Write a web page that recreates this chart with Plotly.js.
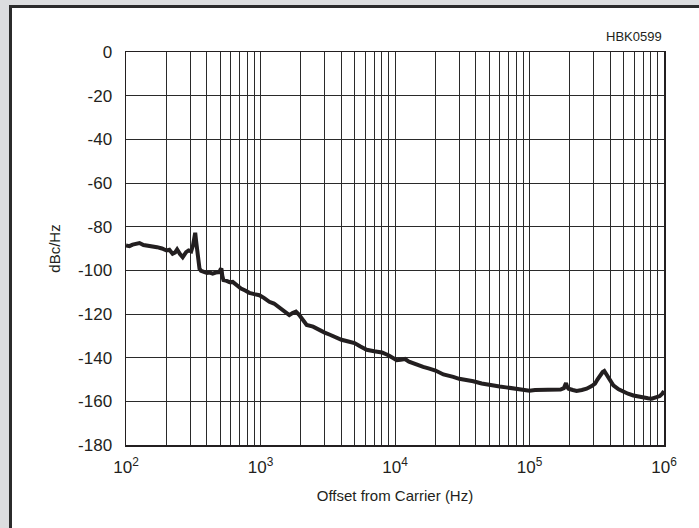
<!DOCTYPE html>
<html>
<head>
<meta charset="utf-8">
<script src="https://cdn.plot.ly/plotly-3.0.1.min.js"></script>
<style>
html, body { margin: 0; padding: 0; width: 699px; height: 528px; overflow: hidden; background: #dcdddf; }
#frame { position: absolute; left: 9px; top: 5px; width: 720px; height: 560px; background: #ffffff;
  border-left: 3px solid #2b2b2b; border-top: 3px solid #2b2b2b; }
#chart { position: absolute; left: 0; top: 0; width: 699px; height: 528px; }
</style>
</head>
<body>
<div id="frame"></div>
<div id="chart"></div>
<script>
// Offset from carrier (Hz)
const freq = [100,106,112,120,126,135,145,158,170,185,200,210,222,232,240,252,264,272,280,292,305,315,322,327,332,338,345,352,361,380,400,420,441,465,494,505,512,520,530,560,590,621,660,716,770,826,900,980,1060,1163,1260,1380,1500,1638,1730,1835,1930,2000,2100,2205,2460,2700,3000,3250,3478,3750,4000,4500,5000,5495,6160,7000,8000,9000,10300,11000,11860,12700,13700,15000,16200,18000,20000,22900,25000,27100,30000,34000,38200,44100,50000,60000,67000,75800,85000,100000,110000,119700,135000,150000,170000,180000,186800,191000,195000,210000,224000,245000,266000,290000,307000,320000,334000,350000,360000,372000,386000,400000,420000,460000,499000,540000,592000,650000,702000,760000,811000,850000,883000,930000,970000,1000000];
// Phase noise (dBc/Hz)
const dbc = [-88.6,-88.9,-88.2,-87.8,-87.5,-88.4,-88.6,-89.0,-89.4,-90.0,-90.9,-90.6,-92.4,-91.8,-90.4,-92.5,-94.0,-92.8,-91.7,-90.9,-91.3,-88.5,-84.0,-82.8,-86.5,-91.7,-96.5,-99.3,-100.2,-100.9,-101.2,-101.0,-101.5,-101.0,-100.8,-99.6,-99.2,-102.5,-104.5,-104.8,-105.4,-105.3,-106.8,-108.3,-109.2,-110.3,-110.9,-111.4,-112.6,-114.4,-115.2,-117.0,-118.6,-120.5,-119.6,-118.9,-120.3,-121.5,-123.5,-125.0,-125.8,-127.2,-128.5,-129.4,-130.3,-130.9,-131.8,-132.6,-133.3,-134.8,-136.4,-137.1,-137.6,-139.0,-141.2,-141.0,-140.6,-141.8,-142.7,-143.5,-144.2,-145.0,-145.9,-147.7,-148.1,-148.8,-149.7,-150.2,-150.8,-151.8,-152.5,-153.2,-153.6,-154.2,-154.6,-155.1,-154.8,-154.7,-154.9,-154.7,-154.6,-154.0,-151.6,-153.5,-154.2,-154.8,-155.2,-154.8,-154.2,-153.0,-151.9,-150.0,-148.1,-146.6,-146.1,-147.5,-149.6,-151.3,-152.7,-154.5,-155.7,-156.5,-157.3,-157.9,-158.3,-158.6,-158.8,-158.5,-158.3,-157.6,-156.5,-155.3];

const decades = [100, 1000, 10000, 100000, 1000000];
const decadeLabels = ['10<sup>2</sup>', '10<sup>3</sup>', '10<sup>4</sup>', '10<sup>5</sup>', '10<sup>6</sup>'];
const yTicks = [0, -20, -40, -60, -80, -100, -120, -140, -160, -180];
const minorMultipliers = [2, 3, 4, 5, 6, 7, 8, 9];

const minorVals = [];
for (let d = 0; d < decades.length - 1; d++) {
  for (const m of minorMultipliers) minorVals.push(decades[d] * m);
}

const trace = {
  x: freq, y: dbc, type: 'scatter', mode: 'lines',
  line: { color: '#231f20', width: 4 },
  hoverinfo: 'skip'
};

const fontFam = '"Liberation Sans", Arial, sans-serif';
const gridCol = '#2a2a2a';
const layout = {
  width: 699, height: 528,
  margin: { l: 126, r: 35, t: 52, b: 83 },
  paper_bgcolor: 'rgba(0,0,0,0)',
  plot_bgcolor: '#ffffff',
  showlegend: false,
  font: { family: fontFam, color: '#231f20' },
  xaxis: {
    type: 'log', range: [2, 6],
    tickmode: 'array', tickvals: decades, ticktext: decadeLabels,
    ticks: '', showgrid: true, gridcolor: gridCol, gridwidth: 1,
    minor: { tickmode: 'array', tickvals: minorVals, showgrid: true, gridcolor: gridCol, gridwidth: 1, ticks: '' },
    showline: true, linecolor: '#231f20', linewidth: 1.5, mirror: true,
    zeroline: false,
    tickfont: { size: 17, family: fontFam, color: '#231f20' },
    ticklabelstandoff: 6,
    title: { text: 'Offset from Carrier (Hz)', font: { size: 15, family: fontFam, color: '#231f20' }, standoff: 14 }
  },
  yaxis: {
    range: [-180, 0],
    tickmode: 'array', tickvals: yTicks, ticktext: yTicks.map(String),
    ticks: '', showgrid: true, gridcolor: gridCol, gridwidth: 1,
    showline: true, linecolor: '#231f20', linewidth: 1.5, mirror: true,
    zeroline: false,
    tickfont: { size: 17, family: fontFam, color: '#231f20' },
    ticklabelstandoff: 9,
    title: { text: 'dBc/Hz', font: { size: 15, family: fontFam, color: '#231f20' }, standoff: 14 }
  },
  annotations: [{
    text: 'HBK0599', xref: 'paper', yref: 'paper', x: 1, y: 1,
    xanchor: 'right', yanchor: 'bottom', yshift: 6, showarrow: false,
    font: { size: 13, family: fontFam, color: '#231f20' }
  }]
};

Plotly.newPlot('chart', [trace], layout, { displayModeBar: false, staticPlot: true });
</script>
</body>
</html>
